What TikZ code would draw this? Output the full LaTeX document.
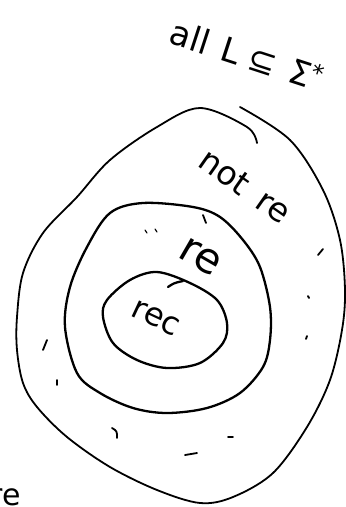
\documentclass[tikz,border=0pt]{standalone}
\usepackage{fontspec}
\setmainfont{DejaVu Sans}
\usetikzlibrary{positioning}
\begin{document}
\begin{tikzpicture}[x=1pt,y=-1pt,
  pen/.style={line width=1.8pt, line cap=round, line join=round},
  lbl/.style={inner sep=0pt, font=\fontsize{30}{30}\selectfont}]
  \useasboundingbox (0,0) rectangle (346,507);
  \clip (0,0) rectangle (346,507);
  % outer set: all languages
  \draw[pen] plot[smooth, tension=0.55] coordinates {(257,143) (247,127) (200,108) (157,127) (110,160) (77,197) (43,233) (23,273) (17,317) (17,350) (23,383) (37,407) (67,437) (110,467) (157,490) (200,503) (233,497) (273,473) (307,427) (330,380) (342,330) (345,290) (340,240) (323,190) (290,140) (240,107)};
  % middle set
  \draw[pen, line width=2.3pt] plot[smooth cycle, tension=0.55] coordinates {(143,203) (110,213) (87,247) (70,287) (65,327) (77,373) (100,393) (133,408) (167,413) (207,408) (240,393) (263,367) (270,340) (270,307) (260,267) (243,240) (220,217) (193,207)};
  \draw[pen] (203,215) -- (206,223);
  % inner set
  \draw[pen, line width=2.3pt] plot[smooth cycle, tension=0.55] coordinates {(157,272) (130,280) (107,300) (103,317) (113,343) (137,360) (167,368) (200,363) (223,343) (227,323) (217,300) (190,283)};
  \draw[pen, line width=2.3pt] (168,287) .. controls (174,283) .. (183,281);
  % stray marks
  \draw[pen, line width=1.2pt] (145,230) -- (147,233) (155,229) -- (157,232);
  \draw[pen] (318,255) -- (323,249);
  \draw[pen] (308,296) -- (309,298) (307,336) -- (306,339);
  \draw[pen] (47,340) -- (43,350) (57,380) -- (57,385);
  \draw[pen] (112,428) .. controls (117,431) .. (117,438);
  \draw[pen] (185,455) -- (197,453) (228,437) -- (233,437);
  % labels
  \node[lbl, rotate=-18, font=\fontsize{34}{34}\selectfont] (all) at (247,55) {all\hspace{14pt}L\hspace{10pt}⊆\hspace{14pt}Σ\textsuperscript{*}};
  \node[lbl, rotate=-35, font=\fontsize{33}{33}\selectfont] (notre) at (245,186) {not\enspace re};
  \node[lbl, rotate=-30, font=\fontsize{42}{42}\selectfont] (re) at (200,257) {re};
  \node[lbl, rotate=-25, font=\fontsize{32}{32}\selectfont] (rec) at (156,318) {rec};
  \node[lbl, anchor=base east] (cut) at (21,505) {re};
\end{tikzpicture}
\end{document}
